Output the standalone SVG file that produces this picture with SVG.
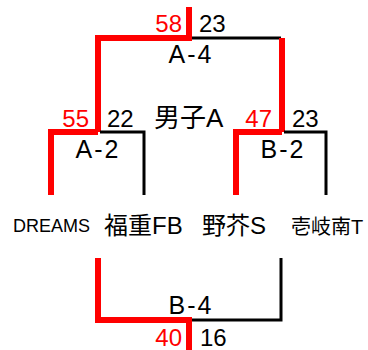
<svg xmlns="http://www.w3.org/2000/svg" width="368" height="350" viewBox="0 0 368 350">
<style>
text{font-family:"Liberation Sans","Noto Sans CJK JP",sans-serif;fill:#000}
.r{fill:#ff0000}
.sc{font-size:24px}
.lb{font-size:25px;text-anchor:middle;letter-spacing:2px}
.red{stroke:#ff0000;stroke-width:6;fill:none}
.blk{stroke:#000;stroke-width:3;fill:none}
</style>
<rect width="368" height="350" fill="#fff"/>
<g id="connectors">
<polyline class="blk" points="190,38 281,38"/>
<polyline class="red" points="189,7 189,38 98,38 98,132"/>
<polyline class="red" points="282,38 282,132"/>
<polyline class="blk" points="100,132 144,132 144,195"/>
<polyline class="red" points="98,132 51,132 51,195"/>
<polyline class="blk" points="284,132 326,132 326,195"/>
<polyline class="red" points="282,132 236,132 236,195"/>
<polyline class="blk" points="190,320 281,320 281,258"/>
<polyline class="red" points="98,258 98,320 189,320 189,350"/>
</g>
<g id="match-A4">
<text class="sc r" x="182" y="32" text-anchor="end">58</text>
<text class="sc" x="199" y="32">23</text>
<text class="lb" x="191" y="63">A-4</text>
</g>
<g id="title"><text x="154" y="127" font-size="26">男子A</text></g>
<g id="match-A2">
<text class="sc r" x="89" y="127" text-anchor="end">55</text>
<text class="sc" x="107" y="127">22</text>
<text class="lb" x="98" y="158">A-2</text>
</g>
<g id="match-B2">
<text class="sc r" x="272" y="127" text-anchor="end">47</text>
<text class="sc" x="292" y="127">23</text>
<text class="lb" x="283" y="158">B-2</text>
</g>
<g id="match-B4">
<text class="lb" x="191" y="314">B-4</text>
<text class="sc r" x="182" y="346" text-anchor="end">40</text>
<text class="sc" x="200" y="346">16</text>
</g>
<g id="team-dreams"><text x="13" y="232" font-size="18">DREAMS</text></g>
<g id="team-fukushige"><text x="104" y="234" font-size="24">福重FB</text></g>
<g id="team-noke"><text x="202" y="234" font-size="24">野芥S</text></g>
<g id="team-iki"><text x="291" y="234" font-size="20">壱岐南T</text></g>
</svg>
